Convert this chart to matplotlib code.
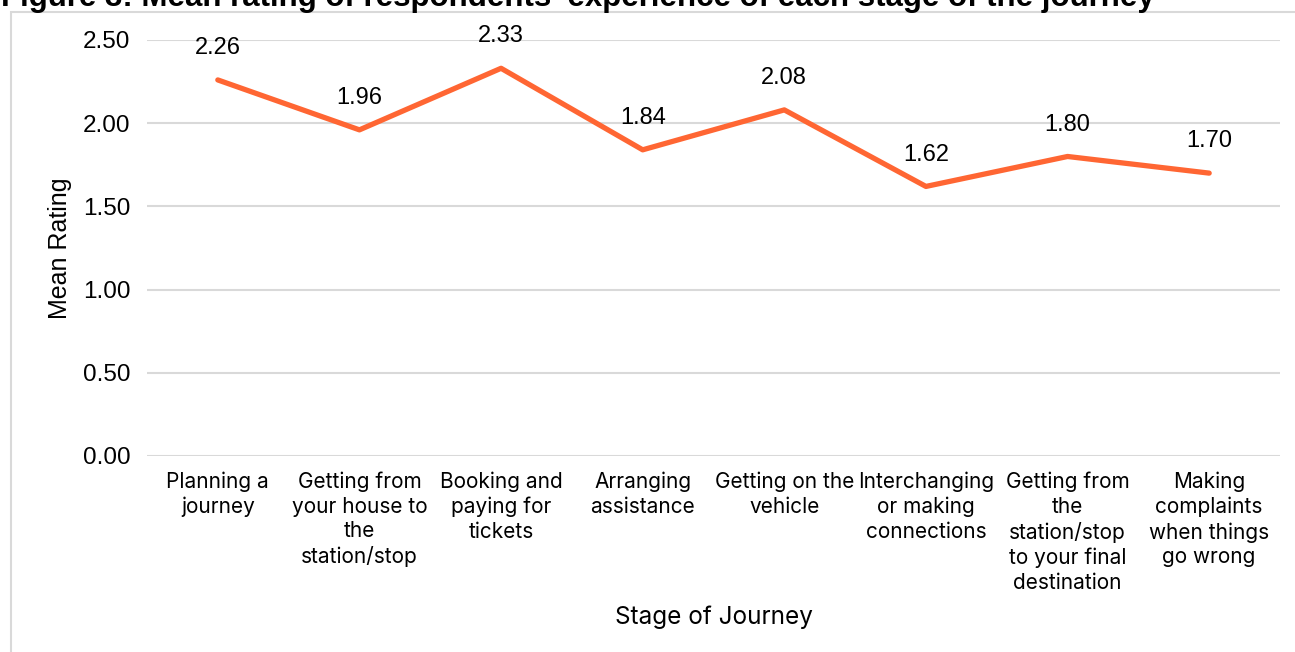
import matplotlib
matplotlib.use('Agg')
import matplotlib.pyplot as plt
from matplotlib.patches import Rectangle

# data
stages = ['Planning a\njourney',
          'Getting from\nyour house to\nthe\nstation/stop',
          'Booking and\npaying for\ntickets',
          'Arranging\nassistance',
          'Getting on the\nvehicle',
          'Interchanging\nor making\nconnections',
          'Getting from\nthe\nstation/stop\nto your final\ndestination',
          'Making\ncomplaints\nwhen things\ngo wrong']
mean_rating = [2.26, 1.96, 2.33, 1.84, 2.08, 1.62, 1.80, 1.70]
yticks = [0.0, 0.5, 1.0, 1.5, 2.0, 2.5]

line_color = '#FF6633'
grid_color = '#D9D9D9'
arial = 'Liberation Sans'
aptos = 'Inter'

W, H = 1295, 652
fig = plt.figure(figsize=(W / 100, H / 100), dpi=100)

# chart frame (cropped screenshot, only left/top edges visible)
fig.patches.append(Rectangle((11 / W, -0.1), 1.2, 1 - 12 / H + 0.1, transform=fig.transFigure,
                             fill=False, edgecolor=grid_color, linewidth=1.5))

# title cut off at the top of the picture, as in the source
fig.text(1 / W, 1 - 6 / H, "Figure 3: Mean rating of respondents' experience of each stage of the journey",
         fontsize=22.5, fontweight='bold', family=arial, ha='left', va='baseline')

ax = fig.add_axes([147 / W, (H - 456) / H, (1280 - 147) / W, (456 - 40) / H])
x = list(range(len(stages)))
ax.plot(x, mean_rating, color=line_color, linewidth=3.8, solid_capstyle='round', zorder=3)

for xi, v in zip(x, mean_rating):
    ax.annotate(f'{v:.2f}', (xi, v), xytext=(0, 15), textcoords='offset points',
                ha='center', va='bottom', fontsize=17, family=arial)

ax.set_xlim(-0.5, len(stages) - 0.5)
ax.set_ylim(0, 2.5)
ax.set_yticks(yticks)
ax.set_yticklabels([f'{t:.2f}' for t in yticks], fontsize=17.5, family=arial)
ax.set_xticks(x)
ax.set_xticklabels(stages, fontsize=15, family=aptos, linespacing=1.3)
ax.tick_params(axis='both', length=0)
ax.tick_params(axis='y', pad=12)
ax.tick_params(axis='x', pad=11)

ax.grid(axis='y', color=grid_color, linewidth=1.5)
ax.set_axisbelow(True)
for s in ax.spines.values():
    s.set_visible(False)

ax.set_xlabel('Stage of Journey', fontsize=17.5, family=aptos)
ax.xaxis.set_label_coords(0.5, -0.36)
ax.set_ylabel('Mean Rating', fontsize=18, family=arial)
ax.yaxis.set_label_coords(-0.066, 0.5)

plt.savefig('out.png', dpi=100)
